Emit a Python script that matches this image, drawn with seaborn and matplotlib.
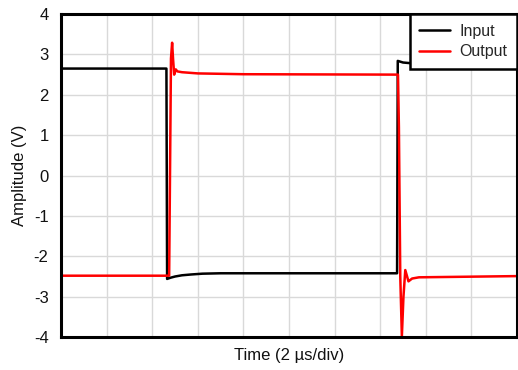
import matplotlib
matplotlib.use("Agg")
import matplotlib.pyplot as plt
import pandas as pd
import seaborn as sns

# time in microseconds, amplitude in volts
input_t = [0.0, 4.62, 4.65, 4.80, 5.00, 5.30, 5.70, 6.20, 7.00, 14.74, 14.77, 15.00, 15.40, 20.0]
input_v = [2.65, 2.65, -2.56, -2.53, -2.50, -2.47, -2.45, -2.43, -2.42, -2.42, 2.84, 2.80, 2.78, 2.75]

output_t = [0.0, 4.74, 4.78, 4.82, 4.87, 4.91, 4.96, 5.03, 5.10, 5.30, 6.00, 8.00,
            14.78, 14.82, 14.88, 14.95, 15.02, 15.10, 15.24, 15.40, 15.70, 20.0]
output_v = [-2.48, -2.48, 0.2, 2.9, 3.29, 2.9, 2.50, 2.63, 2.58, 2.56, 2.53, 2.51,
            2.50, 1.2, -2.5, -3.98, -3.0, -2.34, -2.62, -2.55, -2.52, -2.49]

y_ticks = [-4, -3, -2, -1, 0, 1, 2, 3, 4]
x_grid = [2, 4, 6, 8, 10, 12, 14, 16, 18]

df_in = pd.DataFrame({"t": input_t, "v": input_v, "signal": "Input"})
df_out = pd.DataFrame({"t": output_t, "v": output_v, "signal": "Output"})
df = pd.concat([df_in, df_out], ignore_index=True)

sns.set_theme(style="white")
plt.rcParams["font.family"] = ["Liberation Sans", "DejaVu Sans"]

fig = plt.figure(figsize=(5.18, 3.70), dpi=100)
ax = fig.add_axes([0.118, 0.089, 0.880, 0.873])

sns.lineplot(
    data=df, x="t", y="v", hue="signal",
    palette={"Input": "black", "Output": "#ff0000"},
    estimator=None, sort=False, linewidth=1.8, ax=ax,
)

ax.set_xlim(0, 20)
ax.set_ylim(-4, 4)
ax.set_yticks(y_ticks)
ax.set_yticklabels([str(v) for v in y_ticks], fontsize=12, color="#111111")
ax.set_xticks(x_grid)
ax.set_xticklabels([])
ax.tick_params(length=0, pad=9)
ax.grid(True, color="#d9d9d9", linewidth=1.0)
ax.set_axisbelow(True)

for s in ax.spines.values():
    s.set_color("black")
    s.set_linewidth(2.2)

ax.set_xlabel("Time (2 µs/div)", fontsize=12, color="#111111", labelpad=-1)
ax.set_ylabel("Amplitude (V)", fontsize=12, color="#111111", labelpad=5)

leg = ax.legend(loc="upper right", borderaxespad=0, fancybox=False,
                framealpha=1, fontsize=11.5, handlelength=1.9,
                borderpad=0.6, labelspacing=0.35, handletextpad=0.6)
leg.get_frame().set_edgecolor("black")
leg.get_frame().set_linewidth(1.8)
leg.set_title(None)

fig.savefig("out.png", dpi=100)
